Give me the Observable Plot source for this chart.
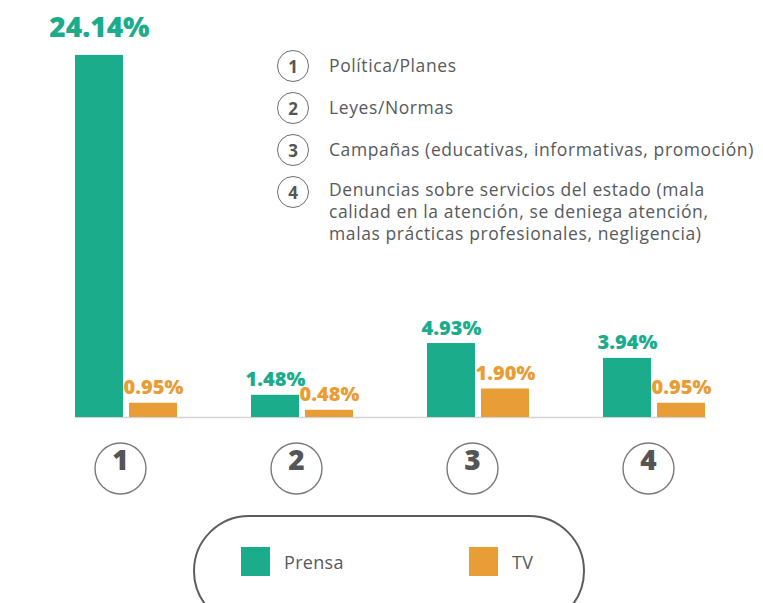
<!DOCTYPE html>
<html>
<head>
<meta charset="utf-8">
<script src="https://cdn.jsdelivr.net/npm/d3@7"></script>
<script src="https://cdn.jsdelivr.net/npm/@observablehq/plot@0.6"></script>
<style>
  html, body { margin: 0; padding: 0; background: #fff; }
  #wrap { position: relative; width: 763px; height: 603px; overflow: hidden; font-family: "Open Sans", sans-serif; color: #58595b; }
  #notes { position: absolute; left: 277px; top: 50px; display: flex; flex-direction: column; gap: 10px; }
  .note { display: flex; align-items: flex-start; }
  .num { box-sizing: border-box; width: 32px; height: 32px; border: 1.4px solid #6d6e70; border-radius: 50%; display: flex; align-items: center; justify-content: center; font-weight: 700; font-size: 17px; color: #555; flex: none; background: #fff; }
  .txt { margin-left: 20px; font-size: 17.5px; letter-spacing: 0.6px; line-height: 22px; padding-top: 4px; white-space: pre-line; }
  .note:last-child .txt { padding-top: 2px; }
  #legend { position: absolute; left: 193px; top: 515px; width: 392px; height: 112px; box-sizing: border-box; border: 2.5px solid #5b5d5e; border-radius: 56px; }
  .item { position: absolute; top: 30px; display: flex; align-items: center; font-size: 18px; letter-spacing: 0.3px; color: #58595b; }
  .sw { width: 29px; height: 29px; margin-right: 14px; }
</style>
</head>
<body>
<div id="wrap">
  <div id="chart"></div>
  <div id="notes"></div>
  <div id="legend"></div>
</div>
<script>
const categories = ["1", "2", "3", "4"];
const series = ["Prensa", "TV"];
const prensaValues = [24.14, 1.48, 4.93, 3.94];
const tvValues = [0.95, 0.48, 1.90, 0.95];
const seriesColors = ["#1bac8c", "#e99d36"];
const noteTexts = [
  "Política/Planes",
  "Leyes/Normas",
  "Campañas (educativas, informativas, promoción)",
  "Denuncias sobre servicios del estado (mala\ncalidad en la atención, se deniega atención,\nmalas prácticas profesionales, negligencia)"
];

const data = categories.flatMap((c, i) => [
  {cat: c, series: "Prensa", value: prensaValues[i]},
  {cat: c, series: "TV", value: tvValues[i]}
]);
const maxVal = d3.max(data, d => d.value);
const fmt = d => d.value.toFixed(2) + "%";

const chart = Plot.plot({
  width: 763,
  height: 603,
  marginTop: 0,
  marginBottom: 186,
  marginLeft: 5,
  marginRight: 0,
  style: {fontFamily: "Open Sans, sans-serif", background: "transparent"},
  fx: {domain: categories, paddingInner: 0.42, paddingOuter: 0.36, align: 0.55, axis: null, label: null},
  x: {domain: series, paddingInner: 0.12, paddingOuter: 0, axis: null},
  y: {domain: [0, 27.8], axis: null},
  color: {domain: series, range: seriesColors},
  marks: [
    Plot.frame({anchor: "bottom", facet: "super", stroke: "#d4d4d4", strokeWidth: 1.5}),
    Plot.barY(data, {fx: "cat", x: "series", y: "value", fill: "series"}),
    Plot.text(data.filter(d => d.value < maxVal), {
      fx: "cat", x: "series", y: "value", text: fmt, fill: "series",
      lineAnchor: "bottom", dy: -9, fontSize: 20, fontWeight: 800
    }),
    Plot.text(data.filter(d => d.value === maxVal), {
      fx: "cat", x: "series", y: "value", text: fmt, fill: "series",
      lineAnchor: "bottom", dy: -18, fontSize: 28, fontWeight: 800
    }),
    Plot.dot(categories, {fx: d => d, frameAnchor: "bottom", dy: 51, dx: -6, r: 25.5, stroke: "#7a7a7a", strokeWidth: 1.4, fill: "white"}),
    Plot.text(categories, {fx: d => d, text: d => d, frameAnchor: "bottom", dy: 52, dx: -6, fontSize: 28, fontWeight: 800, fill: "#555"})
  ]
});
document.getElementById("chart").append(chart);

const notes = document.getElementById("notes");
categories.forEach((c, i) => {
  const row = document.createElement("div");
  row.className = "note";
  const n = document.createElement("div");
  n.className = "num";
  n.textContent = c;
  const t = document.createElement("div");
  t.className = "txt";
  t.textContent = noteTexts[i];
  row.append(n, t);
  notes.append(row);
});

const legend = document.getElementById("legend");
const legendLefts = [46, 274];
series.forEach((s, i) => {
  const it = document.createElement("div");
  it.className = "item";
  it.style.left = legendLefts[i] + "px";
  const sw = document.createElement("div");
  sw.className = "sw";
  sw.style.background = seriesColors[i];
  const lb = document.createElement("span");
  lb.textContent = s;
  it.append(sw, lb);
  legend.append(it);
});
</script>
</body>
</html>
